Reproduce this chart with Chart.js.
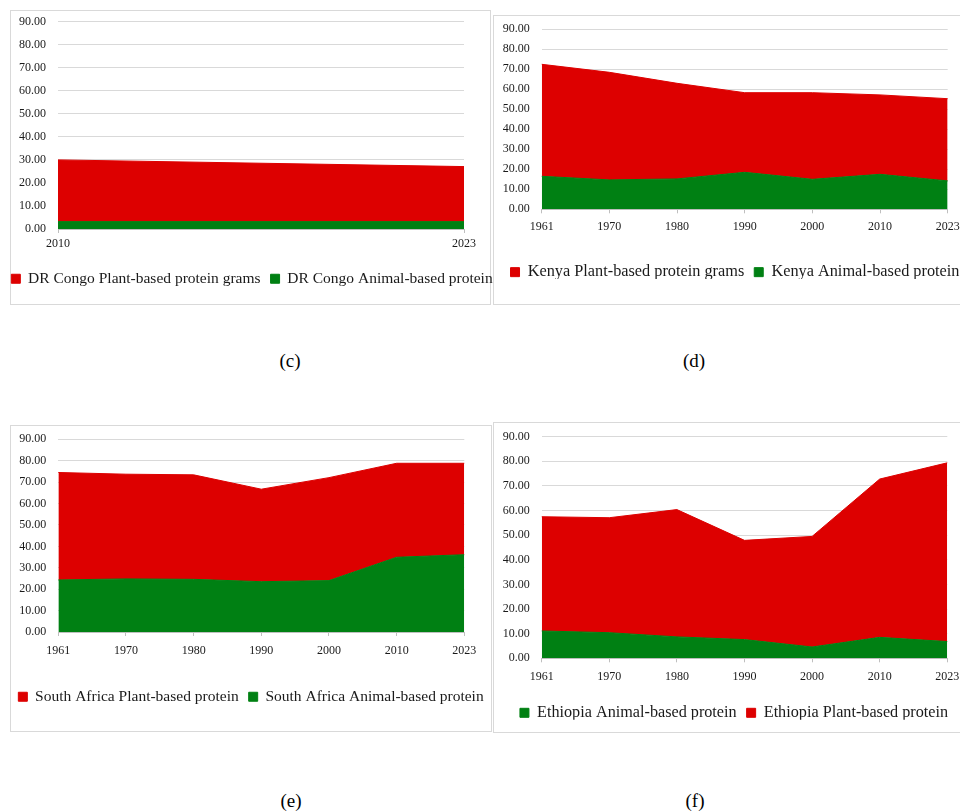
<!DOCTYPE html>
<html><head><meta charset="utf-8">
<script src="https://cdn.jsdelivr.net/npm/chart.js@4.4.0/dist/chart.umd.min.js"></script>
<style>
html,body{margin:0;padding:0;width:960px;height:812px;overflow:hidden;background:#fff;}
.box{position:absolute;border:1px solid #d9d9d9;box-sizing:border-box;}
canvas{position:absolute;}
.cap{position:absolute;font-family:"Liberation Serif","Times New Roman",serif;font-size:19px;color:#000;transform:translate(-50%,-50%);white-space:nowrap;}
</style></head><body>
<div class="box" style="left:10px;top:10px;width:481px;height:295px"></div>
<div class="box" style="left:493px;top:15px;width:500px;height:290px"></div>
<div class="box" style="left:10px;top:425px;width:482px;height:307px"></div>
<div class="box" style="left:493px;top:422px;width:500px;height:311px"></div>
<canvas id="c1"></canvas><canvas id="c2"></canvas><canvas id="c3"></canvas><canvas id="c4"></canvas>
<div class="cap" style="left:290px;top:361px">(c)</div>
<div class="cap" style="left:694px;top:361px">(d)</div>
<div class="cap" style="left:291px;top:801px">(e)</div>
<div class="cap" style="left:695px;top:801px">(f)</div>
<script>
// ---- data ----
const congoYears = ['2010', '2023'];
const congoAnimal = [3.2, 3.2];
const congoPlant = [26.8, 23.9];

const years = ['1961', '1970', '1980', '1990', '2000', '2010', '2023'];
const kenyaAnimal = [16.5, 14.7, 15.2, 18.5, 15.0, 17.5, 14.2];
const kenyaPlant = [56.0, 53.8, 47.8, 39.8, 43.3, 39.7, 41.1];

const saAnimal = [24.3, 24.8, 24.6, 23.5, 24.0, 34.9, 36.1];
const saPlant = [50.2, 48.9, 48.8, 43.2, 48.1, 43.9, 42.7];

const ethAnimal = [11.1, 10.4, 8.7, 7.6, 4.6, 8.5, 6.8];
const ethPlant = [46.4, 46.7, 51.7, 40.3, 44.9, 64.3, 72.6];

const yTickValues = [0, 10, 20, 30, 40, 50, 60, 70, 80, 90];

// ---- style ----
const RED = '#dd0000';
const GREEN = '#008013';
const FONT = '"Liberation Serif", "Times New Roman", serif';
const TEXT = '#1a1a1a';

const legendFix = {
  id: 'legendFix',
  beforeLayout(chart, args, opts) {
    const lg = chart.legend;
    if (!lg || lg._fixed) return;
    const orig = lg.fit;
    lg.fit = function () { orig.call(this); this.height = opts.h; };
    lg._fixed = true;
  }
};

function panel(id, labels, animal, plant, names, reverse, g) {
  const cv = document.getElementById(id);
  const cw = 520;
  const cl = Math.round(g.legCX - cw / 2);
  const ct = g.box.t, ch = g.box.b - g.box.t;
  cv.width = cw; cv.height = ch;
  cv.style.left = cl + 'px'; cv.style.top = ct + 'px';
  cv.style.width = cw + 'px'; cv.style.height = ch + 'px';
  const P = 4, LH = 25, TL = 4;
  const YW = g.plot.l - cl - P;
  const RW = cl + cw - P - g.plot.r;
  const xh = g.legY - 16 - g.plot.b;
  const pad = {
    left: P,
    right: P,
    top: g.plot.t - ct,
    bottom: ch - (g.plot.b - ct) - xh - LH
  };
  const xPad = (g.xlabY - g.plot.b) - TL - 7.2;
  new Chart(cv, {
    type: 'line',
    data: {
      labels: labels,
      datasets: [
        { label: names.animal, data: animal, backgroundColor: GREEN, borderColor: GREEN, borderWidth: 1,
          fill: 'origin', pointRadius: 0, pointHoverRadius: 0, tension: 0 },
        { label: names.plant, data: plant, backgroundColor: RED, borderColor: RED, borderWidth: 1,
          fill: '-1', pointRadius: 0, pointHoverRadius: 0, tension: 0 }
      ]
    },
    plugins: [legendFix],
    options: {
      responsive: false,
      animation: false,
      layout: { padding: pad },
      plugins: {
        legendFix: { h: LH },
        tooltip: { enabled: false },
        legend: {
          position: 'bottom',
          reverse: reverse,
          labels: { boxWidth: 9, boxHeight: 9, padding: 10, color: TEXT,
                    font: { family: FONT, size: g.legFont } }
        }
      },
      scales: {
        x: {
          type: 'category',
          offset: false,
          grid: { display: true, drawOnChartArea: false, drawTicks: true, tickLength: TL, color: '#bfbfbf' },
          border: { display: true, color: '#bfbfbf' },
          ticks: { color: TEXT, font: { family: FONT, size: 12 }, padding: xPad, maxRotation: 0, autoSkip: false },
          afterFit(s) { s.height = xh; s.paddingLeft = 0; s.paddingRight = 0; }
        },
        y: {
          stacked: true, min: 0, max: 90,
          afterBuildTicks(s) { s.ticks = yTickValues.map(v => ({ value: v })); },
          ticks: { color: TEXT, font: { family: FONT, size: 12 }, padding: 12, callback: v => Number(v).toFixed(2) },
          grid: { color: '#d9d9d9', drawTicks: false },
          border: { display: false },
          afterFit(s) { s.width = YW; s.paddingTop = 0; s.paddingBottom = 0; }
        },
        yr: {
          type: 'linear', position: 'right', display: true,
          grid: { display: false, drawTicks: false },
          border: { display: false },
          ticks: { display: false },
          afterFit(s) { s.width = RW; s.paddingTop = 0; s.paddingBottom = 0; }
        }
      }
    }
  });
}

panel('c1', congoYears, congoAnimal, congoPlant,
  { animal: 'DR Congo Animal-based protein', plant: 'DR Congo Plant-based protein grams' }, true,
  { box: { t: 10, b: 305 }, plot: { l: 58, r: 464, t: 21.7, b: 229 }, xlabY: 244, legY: 277, legCX: 251.5, legFont: 15.5 });

panel('c2', years, kenyaAnimal, kenyaPlant,
  { animal: 'Kenya Animal-based protein', plant: 'Kenya Plant-based protein grams' }, true,
  { box: { t: 15, b: 305 }, plot: { l: 541.7, r: 947.7, t: 29.3, b: 209.3 }, xlabY: 227, legY: 270, legCX: 735, legFont: 16.3 });

panel('c3', years, saAnimal, saPlant,
  { animal: 'South Africa Animal-based protein', plant: 'South Africa Plant-based protein' }, true,
  { box: { t: 425, b: 732 }, plot: { l: 58.3, r: 464.3, t: 439.3, b: 632 }, xlabY: 650.7, legY: 695, legCX: 251.3, legFont: 15.5 });

panel('c4', years, ethAnimal, ethPlant,
  { animal: 'Ethiopia Animal-based protein', plant: 'Ethiopia Plant-based protein' }, false,
  { box: { t: 422, b: 733 }, plot: { l: 541.7, r: 947.3, t: 436.7, b: 658.3 }, xlabY: 676.7, legY: 710.7, legCX: 734, legFont: 16.2 });
</script>
</body></html>
